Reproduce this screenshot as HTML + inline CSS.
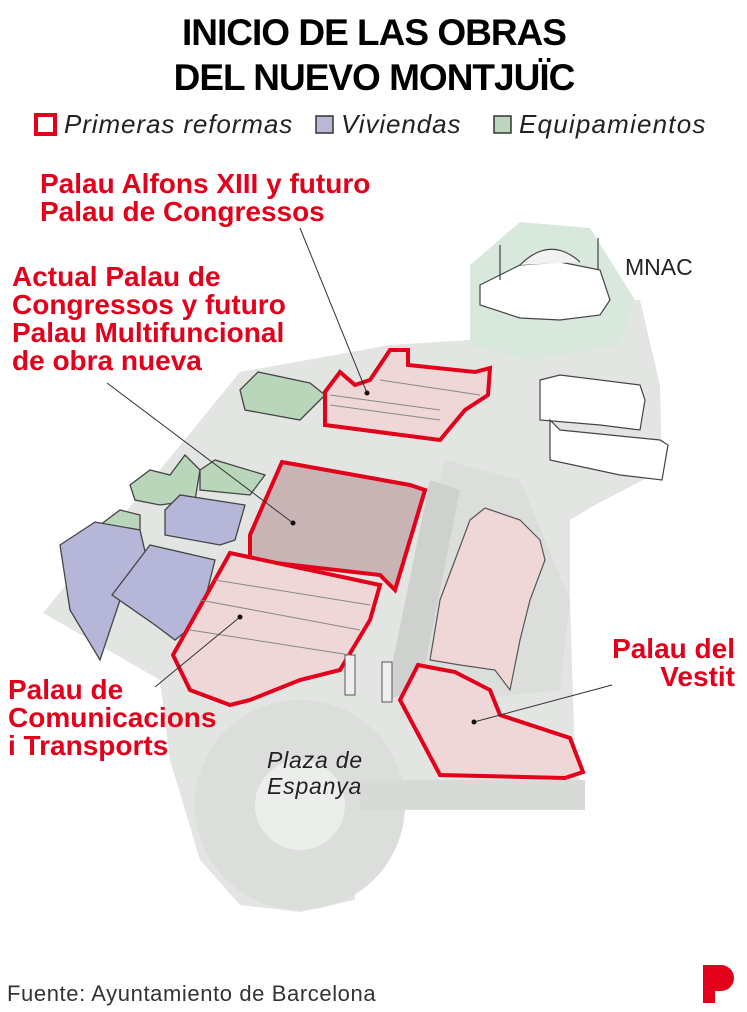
<!DOCTYPE html>
<html><head><meta charset="utf-8"><style>
html,body{margin:0;padding:0;background:#fff;}
body{width:747px;height:1012px;overflow:hidden;position:relative;font-family:"Liberation Sans",sans-serif;}
svg{position:absolute;left:0;top:0;}
</style></head><body>
<svg width="747" height="1012" viewBox="0 0 747 1012" xmlns="http://www.w3.org/2000/svg" font-family="Liberation Sans, sans-serif">
<text x="374" y="45" text-anchor="middle" font-size="37" font-weight="bold" letter-spacing="-1" fill="#000">INICIO DE LAS OBRAS</text>
<text x="374" y="90" text-anchor="middle" font-size="37" font-weight="bold" letter-spacing="-1" fill="#000">DEL NUEVO MONTJUÏC</text>
<rect x="36" y="115" width="19" height="19" fill="#fff" stroke="#e3001b" stroke-width="4"/>
<text x="64" y="133" font-size="26" font-style="italic" letter-spacing="0.9" fill="#222">Primeras reformas</text>
<rect x="316" y="116" width="17" height="17" fill="#b9b9d6" stroke="#333" stroke-width="1.5"/>
<text x="341" y="133" font-size="26" font-style="italic" letter-spacing="0.9" fill="#222">Viviendas</text>
<rect x="494" y="116" width="17" height="17" fill="#bcd6bd" stroke="#333" stroke-width="1.5"/>
<text x="519" y="133" font-size="26" font-style="italic" letter-spacing="1.2" fill="#222">Equipamientos</text>

<polygon points="43,613 240,372 390,345 470,340 470,300 640,300 660,385 662,470 595,505 570,520 570,600 575,760 585,800 360,805 355,900 300,912 240,905 200,860 170,760 160,680" fill="#e3e5e3"/>
<circle cx="300" cy="805" r="105" fill="#dcdedc"/>
<circle cx="300" cy="805" r="45" fill="#eceeec"/>
<rect x="360" y="780" width="225" height="30" fill="#d8dad8"/>
<polygon points="470,265 520,222 590,228 635,300 620,345 530,360 470,345" fill="#d8e8dd"/>
<polygon points="445,460 520,480 570,600 560,690 470,700 400,720 430,520" fill="#dcdedc"/>
<polygon points="430,480 460,490 420,690 385,700" fill="#cfd1cf"/>

<g fill="#fff" stroke="#444" stroke-width="1.2">
<polygon points="480,285 520,265 560,262 600,270 610,300 600,315 560,320 520,318 480,305"/>
<path d="M520,265 Q550,235 580,262" fill="#f2f2f2"/>
<line x1="500" y1="280" x2="500" y2="245"/><line x1="598" y1="270" x2="598" y2="238"/>
</g>
<text x="625" y="275" font-size="23" fill="#222">MNAC</text>
<g fill="#fff" stroke="#444" stroke-width="1.2">
<polygon points="540,380 560,375 640,385 645,400 640,430 600,425 540,420"/>
<polygon points="550,420 560,430 660,440 668,445 662,480 620,475 550,460"/>
</g>

<g fill="#b9d6bb" stroke="#444" stroke-width="1.3">
<polygon points="240,390 258,372 310,383 325,395 300,420 245,410"/>
<polygon points="130,485 150,470 170,475 185,455 200,470 195,500 160,505 135,500"/>
<polygon points="200,470 215,460 265,475 250,495 200,490"/>
<polygon points="100,525 120,510 140,515 140,530 110,540"/>
</g>
<g fill="#b6b6d8" stroke="#444" stroke-width="1.3">
<polygon points="60,545 95,522 140,530 147,560 120,600 100,660 70,610"/>
<polygon points="165,510 180,495 245,505 235,540 220,545 165,535"/>
<polygon points="112,595 150,545 215,560 200,620 175,640 155,625"/>
</g>

<g fill="#efd7d8" stroke="#e3001b" stroke-width="4" stroke-linejoin="miter">
<polygon points="325,392 340,372 355,385 370,380 390,350 408,350 408,365 475,372 490,368 488,395 465,410 440,440 325,425"/>
<polygon points="250,535 282,462 410,485 425,490 395,590 380,575 250,560" fill="#c9b4b5"/>
<polygon points="173,655 230,553 380,585 370,620 340,670 300,680 250,700 230,705 190,690"/>
<polygon points="400,700 418,665 455,672 490,690 500,715 570,738 583,772 565,778 440,775"/>
</g>
<polygon points="470,520 485,508 520,520 540,540 545,560 530,600 520,640 510,690 495,670 460,665 430,660 440,600" fill="#efd7d8" stroke="#555" stroke-width="1.2"/>
<g fill="#eee" stroke="#555" stroke-width="1"><rect x="345" y="655" width="10" height="40"/><rect x="382" y="662" width="10" height="40"/></g>
<g stroke="#888" stroke-width="1" fill="none">
<line x1="330" y1="395" x2="440" y2="410"/><line x1="330" y1="405" x2="440" y2="420"/><line x1="380" y1="380" x2="480" y2="395"/>
<line x1="200" y1="600" x2="360" y2="630"/><line x1="190" y1="630" x2="350" y2="655"/><line x1="215" y1="580" x2="370" y2="605"/>
</g>

<g stroke="#333" stroke-width="1" fill="none">
<line x1="300" y1="228" x2="367" y2="393"/>
<line x1="107" y1="383" x2="293" y2="523"/>
<line x1="155" y1="687" x2="240" y2="617"/>
<line x1="612" y1="685" x2="474" y2="722"/>
</g>
<g fill="#111"><circle cx="367" cy="393" r="2.5"/><circle cx="293" cy="523" r="2.5"/><circle cx="240" cy="617" r="2.5"/><circle cx="474" cy="722" r="2.5"/></g>

<g fill="#e3001b" font-size="28" font-weight="bold" letter-spacing="0">
<text x="40" y="193">Palau Alfons XIII y futuro</text>
<text x="40" y="221">Palau de Congressos</text>
<text x="12" y="286">Actual Palau de</text>
<text x="12" y="314">Congressos y futuro</text>
<text x="12" y="342">Palau Multifuncional</text>
<text x="12" y="370">de obra nueva</text>
<text x="8" y="699">Palau de</text>
<text x="8" y="727">Comunicacions</text>
<text x="8" y="755">i Transports</text>
<text x="735" y="658" text-anchor="end">Palau del</text>
<text x="735" y="686" text-anchor="end">Vestit</text>
</g>
<text x="267" y="768" font-size="23" font-style="italic" letter-spacing="0.8" fill="#222">Plaza de</text>
<text x="267" y="794" font-size="23" font-style="italic" letter-spacing="0.8" fill="#222">Espanya</text>

<text x="7" y="1001" font-size="22" letter-spacing="0.6" fill="#333">Fuente: Ayuntamiento de Barcelona</text>
<path d="M703,965 h18 a13,13 0 0 1 0,26 h-6 v12 h-12 z" fill="#e3001b"/>
</svg>
</body></html>
